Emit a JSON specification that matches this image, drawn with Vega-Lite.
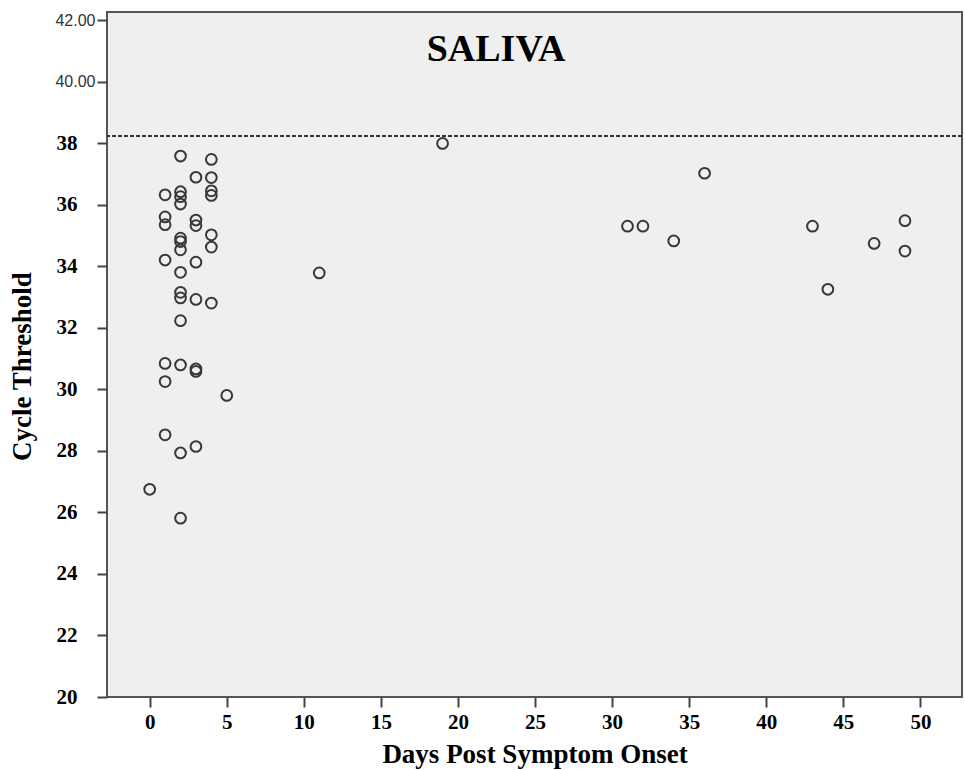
{
  "$schema": "https://vega.github.io/schema/vega-lite/v6.json",
  "width": 855,
  "height": 685,
  "autosize": {"type": "none"},
  "padding": {"left": 107, "top": 12, "right": 3, "bottom": 73},
  "background": "#ffffff",
  "config": {
    "view": {"fill": "#efefef", "stroke": "#555555", "strokeWidth": 2}
  },
  "datasets": {
    "points": [
      {"days": 0, "ct": 26.75},
      {"days": 1, "ct": 36.32},
      {"days": 1, "ct": 35.6},
      {"days": 1, "ct": 35.35},
      {"days": 1, "ct": 34.2},
      {"days": 1, "ct": 30.84},
      {"days": 1, "ct": 30.25},
      {"days": 1, "ct": 28.52},
      {"days": 2, "ct": 37.58},
      {"days": 2, "ct": 36.42},
      {"days": 2, "ct": 36.26},
      {"days": 2, "ct": 36.02},
      {"days": 2, "ct": 34.91},
      {"days": 2, "ct": 34.8},
      {"days": 2, "ct": 34.53},
      {"days": 2, "ct": 33.8},
      {"days": 2, "ct": 33.15},
      {"days": 2, "ct": 32.97},
      {"days": 2, "ct": 32.23},
      {"days": 2, "ct": 30.79},
      {"days": 2, "ct": 27.93},
      {"days": 2, "ct": 25.81},
      {"days": 3, "ct": 36.89},
      {"days": 3, "ct": 35.5},
      {"days": 3, "ct": 35.32},
      {"days": 3, "ct": 34.13},
      {"days": 3, "ct": 32.92},
      {"days": 3, "ct": 30.66},
      {"days": 3, "ct": 30.58},
      {"days": 3, "ct": 28.14},
      {"days": 4, "ct": 37.47},
      {"days": 4, "ct": 36.88},
      {"days": 4, "ct": 36.45},
      {"days": 4, "ct": 36.3},
      {"days": 4, "ct": 35.02},
      {"days": 4, "ct": 34.62},
      {"days": 4, "ct": 32.8},
      {"days": 5, "ct": 29.8},
      {"days": 11, "ct": 33.78},
      {"days": 19, "ct": 37.99},
      {"days": 31, "ct": 35.3},
      {"days": 32, "ct": 35.3},
      {"days": 34, "ct": 34.82},
      {"days": 36, "ct": 37.02},
      {"days": 43, "ct": 35.3},
      {"days": 44, "ct": 33.25},
      {"days": 47, "ct": 34.74},
      {"days": 49, "ct": 35.48},
      {"days": 49, "ct": 34.49}
    ],
    "cutoff": [{"ct": 38.23}],
    "label": [{"days": 22.47, "ct": 40.67, "text": "SALIVA"}]
  },
  "layer": [
    {
      "data": {"name": "cutoff"},
      "mark": {"type": "rule", "stroke": "#333333", "strokeWidth": 2, "strokeDash": [4, 2]},
      "encoding": {
        "y": {"field": "ct", "type": "quantitative", "scale": {"domain": [20, 42.26], "nice": false, "zero": false}}
      }
    },
    {
      "data": {"name": "label"},
      "mark": {"type": "text", "font": "Liberation Serif", "fontSize": 38, "fontWeight": "bold", "color": "#000000", "align": "center", "baseline": "alphabetic"},
      "encoding": {
        "x": {"field": "days", "type": "quantitative"},
        "y": {"field": "ct", "type": "quantitative"},
        "text": {"field": "text"}
      }
    },
    {
      "data": {"name": "points"},
      "mark": {"type": "point", "shape": "circle", "filled": false, "stroke": "#383838", "strokeWidth": 2, "size": 115, "opacity": 1},
      "encoding": {
        "x": {
          "field": "days",
          "type": "quantitative",
          "scale": {"domain": [-2.77, 52.7], "nice": false, "zero": false},
          "axis": {
            "title": "Days Post Symptom Onset",
            "values": [0, 5, 10, 15, 20, 25, 30, 35, 40, 45, 50],
            "grid": false,
            "domain": false,
            "ticks": true,
            "tickSize": 10,
            "tickWidth": 2,
            "tickColor": "#444444",
            "labelFont": "Liberation Serif",
            "labelFontWeight": "bold",
            "labelFontSize": 21,
            "labelColor": "#000000",
            "labelPadding": 4,
            "titleFont": "Liberation Serif",
            "titleFontWeight": "bold",
            "titleFontSize": 27,
            "titleColor": "#000000",
            "titlePadding": 9
          }
        },
        "y": {
          "field": "ct",
          "type": "quantitative",
          "scale": {"domain": [20, 42.26], "nice": false, "zero": false},
          "axis": {
            "title": "Cycle Threshold",
            "values": [20, 22, 24, 26, 28, 30, 32, 34, 36, 38, 40, 42],
            "labelExpr": "datum.value >= 40 ? format(datum.value, '.2f') : datum.label",
            "grid": false,
            "domain": false,
            "ticks": true,
            "tickSize": 10,
            "tickWidth": 2,
            "tickColor": "#444444",
            "labelFont": {"condition": {"test": "datum.value >= 40", "value": "Liberation Sans"}, "value": "Liberation Serif"},
            "labelFontWeight": {"condition": {"test": "datum.value >= 40", "value": "normal"}, "value": "bold"},
            "labelFontSize": {"condition": {"test": "datum.value >= 40", "value": 16}, "value": 21},
            "labelColor": {"condition": {"test": "datum.value >= 40", "value": "#333333"}, "value": "#000000"},
            "labelPadding": {"condition": {"test": "datum.value >= 40", "value": 2}, "value": 20},
            "titleFont": "Liberation Serif",
            "titleFontWeight": "bold",
            "titleFontSize": 27,
            "titleColor": "#000000",
            "titlePadding": 18,
            "titleY": 354
          }
        }
      }
    }
  ]
}
